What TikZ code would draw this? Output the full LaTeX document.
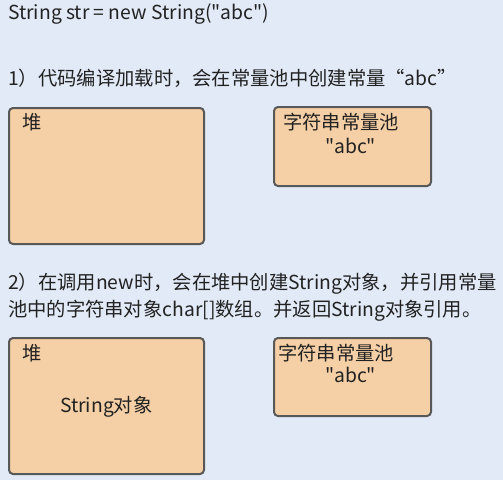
\documentclass[tikz,border=0pt]{standalone}
\usepackage{fontspec}
\newfontfamily\cjkfont{Noto Sans CJK SC}
\usetikzlibrary{positioning}
\definecolor{bgblue}{RGB}{225,234,246}
\definecolor{boxorange}{RGB}{245,207,165}
\definecolor{boxline}{RGB}{88,88,88}
\definecolor{inkgray}{RGB}{34,34,34}

\begin{document}
\begin{tikzpicture}[x=1pt, y=-1pt,
  every node/.style={text=inkgray, font=\cjkfont\fontsize{19.3}{23}\selectfont},
  area/.style={draw=boxline, line width=2pt, fill=boxorange, rounded corners=4pt, anchor=north west},
  label/.style={anchor=west, inner sep=0pt}]
  \fill[bgblue] (0,0) rectangle (503,480);
  \useasboundingbox (0,0) rectangle (503,480);

  % step 1
  \node[label] (code) at (8, 14) {String str = new String("abc")};
  \node[label] (stepone) at (8, 78) {1）代码编译加载时，会在常量池中创建常量“abc”};
  \node[area, minimum width=195pt, minimum height=136pt] (heapa) at (8, 107) {};
  \node[area, minimum width=157pt, minimum height=79pt] (poola) at (273, 106) {};
  \node[label] (heapatitle) at (22, 122) {堆};
  \node[label] (poolatitle) at (283, 122) {字符串常量池};
  \node[label] (abca) at (325, 146) {"abc"};

  % step 2
  \node[label] (steptwo) at (8, 284) {2）在调用new时，会在堆中创建String对象，并引用常量};
  \node[label] (stepthree) at (8, 311) {池中的字符串对象char[]数组。并返回String对象引用。};
  \node[area, minimum width=195pt, minimum height=136pt] (heapb) at (8, 337) {};
  \node[area, minimum width=157pt, minimum height=78pt] (poolb) at (273, 337) {};
  \node[label] (heapbtitle) at (22, 353) {堆};
  \node[label] (poolbtitle) at (278, 353) {字符串常量池};
  \node[label] (abcb) at (325, 375) {"abc"};
  \node[label] (strobj) at (60, 407) {String对象};
\end{tikzpicture}
\end{document}
